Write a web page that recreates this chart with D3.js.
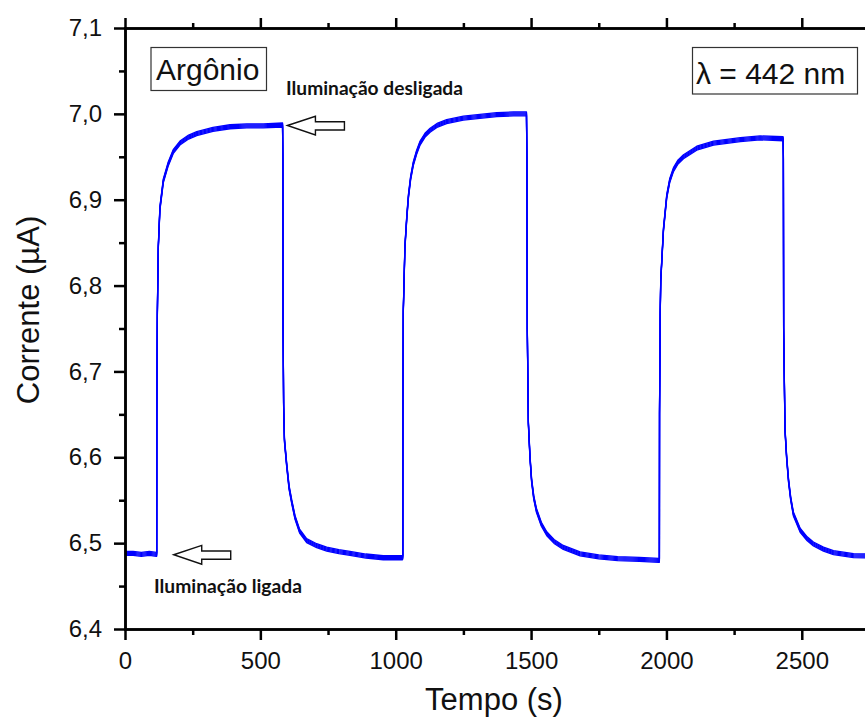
<!DOCTYPE html>
<html>
<head>
<meta charset="utf-8">
<script src="https://cdn.jsdelivr.net/npm/d3@7"></script>
<style>
  body { margin: 0; background: #fff; }
  svg { display: block; }
  .axis path, .axis line { stroke: #000; stroke-width: 2.5; }
  .axis text { font-family: "Liberation Sans", Arial, sans-serif; font-size: 24px; fill: #111; }
  .title { font-family: "Liberation Sans", Arial, sans-serif; font-size: 31px; fill: #111; }
  .note { font-family: Lato, "Noto Sans", sans-serif; font-weight: bold; font-size: 18px; fill: #111; }
  .box text { font-family: "Liberation Sans", Arial, sans-serif; font-size: 30px; fill: #111; }
</style>
</head>
<body>
<div class="chart"></div>
<script>
// tempo (s) e corrente (uA)
const tempo = [
  0, 30, 60, 90, 116,
  117, 117.5, 119.5, 123, 129, 141.5, 160, 178, 203, 235, 265, 325, 388, 450, 511, 582,
  583, 584, 586, 589, 597, 606, 616, 628, 645, 671, 708, 745, 790, 831, 890, 954, 1000, 1025,
  1026, 1026.5, 1028, 1034, 1041, 1047, 1055, 1065, 1077, 1090, 1108, 1127, 1155, 1188, 1250, 1311, 1373, 1435, 1483,
  1484.5, 1486, 1490, 1496, 1502, 1510, 1520, 1538, 1558, 1585, 1619, 1681, 1750, 1820, 1900, 1972,
  1974, 1974.5, 1977, 1979, 1989, 2001, 2012, 2026, 2043, 2063, 2112, 2174, 2273, 2346, 2431,
  2432, 2433, 2438, 2444, 2451, 2459, 2469, 2494, 2520, 2543, 2580, 2617, 2691, 2740, 2800
];
const corrente = [
  6.488, 6.488, 6.487, 6.488, 6.487,
  6.487, 6.650, 6.767, 6.845, 6.890, 6.922, 6.942, 6.956, 6.966, 6.973, 6.977, 6.982, 6.985, 6.986, 6.986, 6.987,
  6.950, 6.750, 6.660, 6.620, 6.592, 6.565, 6.548, 6.530, 6.514, 6.503, 6.497, 6.493, 6.490, 6.488, 6.485, 6.483, 6.483, 6.483,
  6.484, 6.650, 6.770, 6.845, 6.880, 6.904, 6.925, 6.942, 6.955, 6.966, 6.975, 6.981, 6.987, 6.991, 6.995, 6.997, 6.999, 7.000, 7.000,
  6.950, 6.750, 6.640, 6.600, 6.573, 6.553, 6.538, 6.522, 6.511, 6.502, 6.495, 6.4875, 6.484, 6.482, 6.481, 6.480,
  6.480, 6.650, 6.767, 6.806, 6.865, 6.9035, 6.922, 6.935, 6.944, 6.950, 6.960, 6.966, 6.970, 6.972, 6.971,
  6.950, 6.750, 6.632, 6.600, 6.573, 6.552, 6.534, 6.515, 6.505, 6.499, 6.493, 6.489, 6.4855, 6.485, 6.484
];
const xTicks = [0, 500, 1000, 1500, 2000, 2500];
const xMinor = [250, 750, 1250, 1750, 2250, 2750];
const yTicks = [6.4, 6.5, 6.6, 6.7, 6.8, 6.9, 7.0, 7.1];
const yMinor = [6.45, 6.55, 6.65, 6.75, 6.85, 6.95, 7.05];

const data = tempo.map((t, i) => ({t: t, v: corrente[i]}));

const width = 865, height = 722;
const svg = d3.select('.chart').append('svg')
  .attr('width', width)
  .attr('height', height);

const x = d3.scaleLinear().domain([0, 2800]).range([125, 883]);
const y = d3.scaleLinear().domain([6.4, 7.1]).range([629, 28]);

svg.append('clipPath').attr('id', 'plot')
  .append('rect')
  .attr('x', 125).attr('y', 28)
  .attr('width', 760).attr('height', 601);

// curva (copias deslocadas em y para imitar o ruido)
const line = d3.line().x(d => x(d.t)).y(d => y(d.v));
const g = svg.append('g').attr('clip-path', 'url(#plot)');
[-2, -1, 0, 1, 2].forEach(dy => {
  g.append('path')
    .datum(data)
    .attr('d', line)
    .attr('transform', `translate(0,${dy})`)
    .attr('fill', 'none')
    .attr('stroke', '#0000ff')
    .attr('stroke-width', 1.3)
    .attr('stroke-linejoin', 'round');
});

// eixos
svg.append('g').attr('class', 'axis')
  .attr('transform', 'translate(0,629)')
  .call(d3.axisBottom(x).tickValues(xTicks).tickFormat(d3.format('d')).tickSize(11).tickPadding(12).tickSizeOuter(0));
svg.append('g').attr('class', 'axis')
  .attr('transform', 'translate(0,629)')
  .call(d3.axisBottom(x).tickValues(xMinor).tickFormat('').tickSize(6).tickSizeOuter(0));

svg.append('g').attr('class', 'axis')
  .attr('transform', 'translate(0,28)')
  .call(d3.axisTop(x).tickValues(xTicks).tickFormat('').tickSize(10).tickSizeOuter(0));
svg.append('g').attr('class', 'axis')
  .attr('transform', 'translate(0,28)')
  .call(d3.axisTop(x).tickValues(xMinor).tickFormat('').tickSize(5).tickSizeOuter(0));

const fmtY = d => d3.format('.1f')(d).replace('.', ',');
svg.append('g').attr('class', 'axis')
  .attr('transform', 'translate(125,0)')
  .call(d3.axisLeft(y).tickValues(yTicks).tickFormat(fmtY).tickSize(11).tickPadding(12).tickSizeOuter(0));
svg.append('g').attr('class', 'axis')
  .attr('transform', 'translate(125,0)')
  .call(d3.axisLeft(y).tickValues(yMinor).tickFormat('').tickSize(6).tickSizeOuter(0));

svg.selectAll('.axis .domain').attr('stroke-linecap', 'square');

// titulos
svg.append('text').attr('class', 'title')
  .attr('x', 494).attr('y', 710)
  .attr('text-anchor', 'middle')
  .text('Tempo (s)');
svg.append('text').attr('class', 'title')
  .attr('transform', 'translate(39,310) rotate(-90)')
  .attr('text-anchor', 'middle')
  .text('Corrente (\u00b5A)');

// caixas
function box(x0, y0, w, h, label, tx, ty) {
  const b = svg.append('g').attr('class', 'box');
  b.append('rect')
    .attr('x', x0).attr('y', y0).attr('width', w).attr('height', h)
    .attr('fill', '#fff').attr('stroke', '#333').attr('stroke-width', 1.2);
  b.append('text').attr('x', tx).attr('y', ty).text(label);
}
box(151, 47.5, 115.5, 43, 'Arg\u00f4nio', 156, 80);
box(692.5, 47.5, 165, 46.5, '\u03bb = 442 nm', 696, 83.5);

// setas
function arrow(tipX, tipY) {
  const p = [
    [0, 0], [28, -9.3], [28, -3.7], [57, -3.7], [57, 4.5], [28, 4.5], [28, 9.5]
  ].map(d => [tipX + d[0], tipY + d[1]]);
  svg.append('path')
    .attr('d', d3.line()(p) + 'Z')
    .attr('fill', '#fff')
    .attr('stroke', '#111')
    .attr('stroke-width', 1.4);
}
arrow(x(600), y(6.987) + 0.5);
arrow(x(180), y(6.4865));

svg.append('text').attr('class', 'note')
  .attr('x', 286).attr('y', 95)
  .attr('textLength', 177).attr('lengthAdjust', 'spacingAndGlyphs')
  .text('Ilumina\u00e7\u00e3o desligada');
svg.append('text').attr('class', 'note')
  .attr('x', 154).attr('y', 593)
  .attr('textLength', 148).attr('lengthAdjust', 'spacingAndGlyphs')
  .text('Ilumina\u00e7\u00e3o ligada');
</script>
</body>
</html>
